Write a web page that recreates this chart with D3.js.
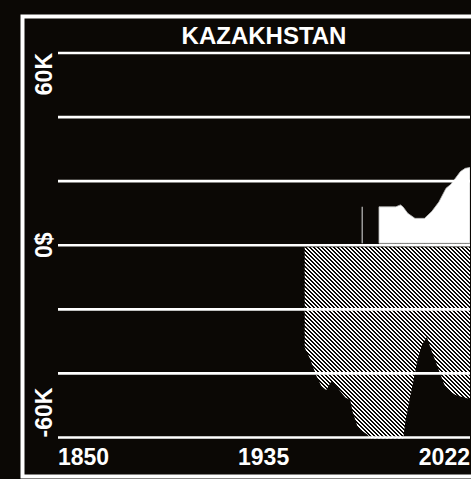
<!DOCTYPE html>
<html><head><meta charset="utf-8">
<script src="https://cdn.jsdelivr.net/npm/d3@7"></script>
<style>html,body{margin:0;padding:0;background:#0b0805;overflow:hidden}</style>
</head><body>
<script>
const title = "KAZAKHSTAN";
const xTickYears = [1850, 1935, 2022];
const yTickValues = [60000, 0, -60000];
const yTickLabels = ["60K", "0$", "-60K"];
const gridValues = [-60000, -40000, -20000, 0, 20000, 40000, 60000];

// positive series (white area); null = no data
const posYears  = [1977, 1978, 1983, 1984, 1991, 1993, 1994, 1996, 1999, 2003, 2006, 2009, 2012, 2014, 2016, 2018, 2020, 2022];
const posValues = [12000, null, null, 12000, 12000, 12600, 12000, 10000, 8400, 8400, 10500, 13500, 17800, 19000, 21000, 23000, 24000, 24300];

// negative series (hatched area)
const negYears  = [1953, 1955, 1957, 1958, 1960, 1962, 1964, 1966, 1968, 1970, 1972, 1973, 1975, 1977, 1979, 1981, 1983, 1988, 1993, 1994, 1995, 1997, 1999, 2000, 2002, 2004, 2006, 2008, 2010, 2011, 2012, 2014, 2016, 2018, 2020, 2022];
const negValues = [-32000, -35000, -39000, -41000, -44000, -45200, -42600, -43600, -45700, -47500, -48300, -52000, -56500, -58000, -59000, -60500, -63000, -64000, -63000, -61000, -55000, -47300, -40000, -36000, -31000, -28600, -33000, -37000, -41000, -43000, -44600, -45800, -46700, -47200, -47600, -48000];

const W = 471, H = 479;
const svg = d3.select("body").append("svg").attr("width", W).attr("height", H)
  .style("display","block").style("font-family","'Liberation Sans', Arial, sans-serif").style("font-weight","bold");

svg.append("rect").attr("width", W).attr("height", H).attr("fill", "#0b0805");

const x = d3.scaleLinear().domain([1850, 2022]).range([58, 470]);
const y = d3.scaleLinear().domain([-60000, 60000]).range([437.5, 53]);

// hatch pattern
const defs = svg.append("defs");
const pat = defs.append("pattern").attr("id", "hatch").attr("patternUnits", "userSpaceOnUse")
  .attr("width", 4).attr("height", 4);
pat.append("rect").attr("width", 4).attr("height", 4).attr("fill", "#0b0805");
for (let r = 0; r < 4; r++) {
  for (let k = 0; k < 2; k++) {
    pat.append("rect").attr("x", (r + k) % 4).attr("y", r).attr("width", 1).attr("height", 1).attr("fill", "#ffffff");
  }
}
defs.append("clipPath").attr("id", "plotclip").append("rect")
  .attr("x", 58).attr("y", y(60000)).attr("width", 412).attr("height", y(-60000) - y(60000) + 1);

// border
svg.append("rect").attr("x", 22.5).attr("y", 16.5).attr("width", 470).attr("height", 460)
  .attr("fill", "none").attr("stroke", "#ffffff").attr("stroke-width", 4);

// title
svg.append("text").attr("x", (x.range()[0] + x.range()[1]) / 2).attr("y", 43.5)
  .attr("text-anchor", "middle").attr("fill", "#ffffff").attr("font-size", 24).text(title);

const plot = svg.append("g").attr("clip-path", "url(#plotclip)");

// negative area
const negData = negYears.map((yr, i) => ({yr, v: negValues[i]}));
const negArea = d3.area().x(d => x(d.yr)).y0(y(0) + 2).y1(d => y(d.v)).curve(d3.curveLinear);
plot.append("path").datum(negData).attr("d", negArea).attr("fill", "url(#hatch)");

// positive area
const posData = posYears.map((yr, i) => ({yr, v: posValues[i]}));
const posArea = d3.area().defined(d => d.v !== null).x(d => x(d.yr)).y0(y(0) - 2).y1(d => y(d.v));
plot.append("path").datum(posData).attr("d", posArea).attr("fill", "#ffffff")
  .attr("stroke", "#bbbbbb").attr("stroke-width", 0.8);

// gridlines
svg.append("g").selectAll("line").data(gridValues).join("line")
  .attr("x1", x.range()[0]).attr("x2", x.range()[1])
  .attr("y1", d => y(d)).attr("y2", d => y(d))
  .attr("stroke", "#ffffff").attr("stroke-width", 2.6);

// x tick labels
const anchors = ["start", "middle", "end"];
svg.append("g").selectAll("text").data(xTickYears).join("text")
  .attr("x", (d, i) => x(d) + (i === 1 ? 2 : 0)).attr("y", 465)
  .attr("text-anchor", (d, i) => anchors[i]).attr("fill", "#ffffff").attr("font-size", 23)
  .text(d => String(d));

// y tick labels (rotated)
const yAnch = ["end", "middle", "start"];
svg.append("g").selectAll("text").data(yTickValues).join("text")
  .attr("transform", d => `translate(52,${y(d)}) rotate(-90)`)
  .attr("text-anchor", (d, i) => yAnch[i]).attr("fill", "#ffffff").attr("font-size", 23)
  .text((d, i) => yTickLabels[i]);
</script>
</body></html>
